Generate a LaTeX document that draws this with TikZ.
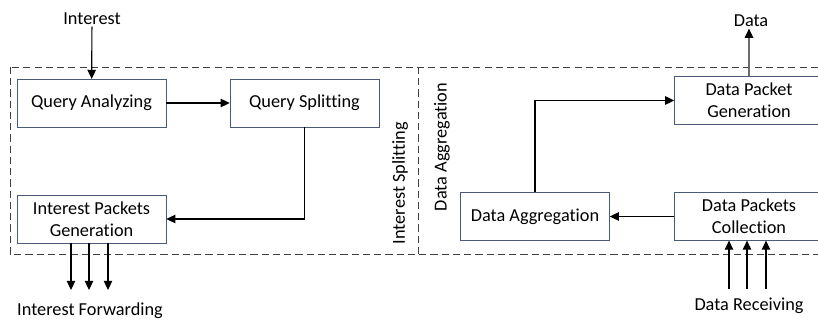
\documentclass[tikz,border=0pt]{standalone}
\usepackage{fontspec}
\setmainfont{Carlito}[Ligatures=NoCommon]
\usetikzlibrary{shapes,arrows.meta,positioning,calc}
\definecolor{boxline}{HTML}{4A5A78}
\definecolor{regionline}{HTML}{404040}

\begin{document}
\begin{tikzpicture}[x=0.025cm,y=-0.025cm]
  \tikzstyle{block}=[rectangle, draw=boxline, minimum width=3.72cm, minimum height=1.19cm, font=\fontsize{13}{15.5}\selectfont, align=center, inner sep=2pt]
  \tikzstyle{lbl}=[font=\fontsize{13}{15.5}\selectfont, inner sep=1pt]
  \tikzstyle{flow}=[-{Triangle[width=6pt,length=6.5pt,black]}, line width=0.8pt]
  \tikzstyle{region}=[draw=regionline, line width=0.7pt, dash pattern=on 5pt off 3pt]
  \useasboundingbox (0,0) rectangle (818,320);

  % Regions
  \draw[region] (10,67) rectangle (840,254);
  \draw[region] (418,67) -- (418,254);
  \node[lbl, rotate=90] (isplit) at (400,183) {Interest Splitting};
  \node[lbl, rotate=90] (daggr) at (442,147) {Data Aggregation};

  % Interest splitting
  \node[block] (qa) at (91.5,103) {Query Analyzing};
  \node[block] (qs) at (304.5,103) {Query Splitting};
  \node[block] (ipg) at (91.5,219) {Interest Packets\\Generation};
  \node[lbl] (int) at (92,19) {Interest};
  \node[lbl] (fwd) at (90,311) {Interest Forwarding};

  \draw[flow] (int) -- (qa);
  \draw[flow] (qa) -- (qs);
  \draw[flow] (qs.south) |- (ipg.east);

  % Forwarding
  \coordinate (f1) at (71,290);
  \coordinate (f2) at (89,290);
  \coordinate (f3) at (108,290);
  \draw[flow] (ipg.south -| f1) -- (f1);
  \draw[flow] (ipg.south -| f2) -- (f2);
  \draw[flow] (ipg.south -| f3) -- (f3);

  % Data aggregation
  \node[block] (dpg) at (749,100.5) {Data Packet\\Generation};
  \node[block] (dpc) at (749,216.5) {Data Packets\\Collection};
  \node[block] (da) at (535,216.5) {Data Aggregation};
  \node[lbl] (data) at (751,21) {Data};
  \node[lbl] (recv) at (749,306) {Data Receiving};

  \draw[flow] (dpc) -- (da);
  \draw[flow] (da.north) |- (dpg.west);
  \draw[flow, draw=gray!85!black] (dpg.north) -- (dpg.north |- data.south);

  % Receiving
  \coordinate (r1) at (729,289);
  \coordinate (r2) at (747,289);
  \coordinate (r3) at (766,289);
  \draw[flow] (r1) -- (dpc.south -| r1);
  \draw[flow] (r2) -- (dpc.south -| r2);
  \draw[flow] (r3) -- (dpc.south -| r3);
\end{tikzpicture}
\end{document}
